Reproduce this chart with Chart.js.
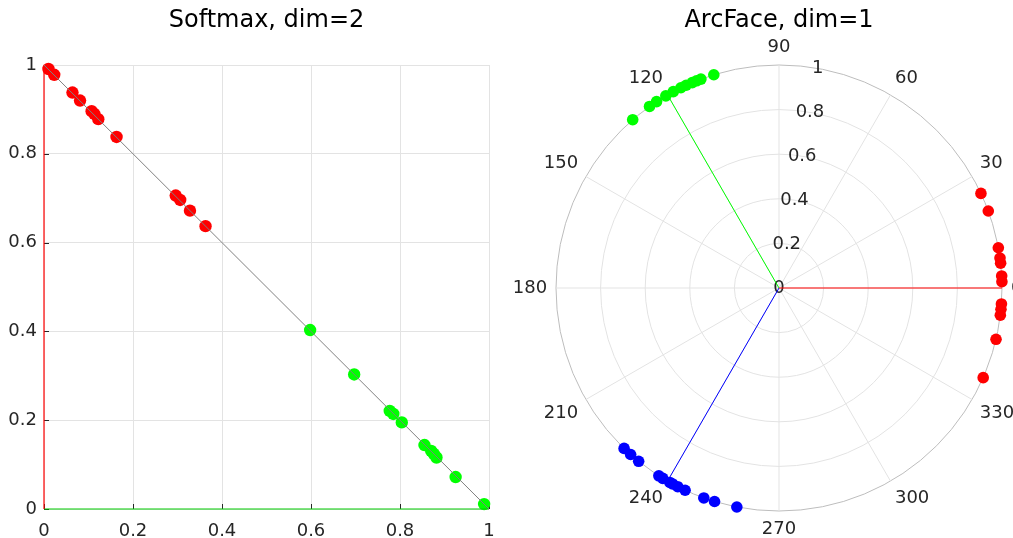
<!DOCTYPE html>
<html>
<head>
<meta charset="utf-8">
<script src="https://cdn.jsdelivr.net/npm/chart.js@4"></script>
<style>
  html, body { margin: 0; padding: 0; background: #fff; }
  body { width: 1013px; height: 538px; position: relative; overflow: hidden; }
  canvas { position: absolute; top: 0; }
  #softmaxChart { left: 0; }
  #arcfaceChart { left: 506px; }
</style>
</head>
<body>
<canvas id="softmaxChart" width="533" height="538"></canvas>
<canvas id="arcfaceChart" width="507" height="538"></canvas>
<script>
// Softmax, dim=2
const redX = [0.010, 0.023, 0.064, 0.081, 0.107, 0.113, 0.122, 0.163, 0.296, 0.306, 0.328, 0.363];
const redY = [0.991, 0.978, 0.938, 0.920, 0.896, 0.890, 0.878, 0.838, 0.706, 0.696, 0.672, 0.637];
const greenX = [0.598, 0.697, 0.777, 0.785, 0.804, 0.855, 0.870, 0.876, 0.882, 0.925, 0.989];
const greenY = [0.403, 0.303, 0.221, 0.214, 0.195, 0.144, 0.131, 0.124, 0.116, 0.072, 0.011];
const simplexX = [0, 1];
const simplexY = [1, 0];
const softmaxTicks = [0, 0.2, 0.4, 0.6, 0.8, 1];

// ArcFace, dim=1 (angles in degrees, radius 1)
const arcRedAngles = [25.1, 20.2, 10.4, 7.7, 6.4, 3.1, 1.6, -4.1, -5.5, -7.0, -13.3, -23.7];
const arcGreenAngles = [107.0, 110.5, 111.7, 112.9, 114.6, 116.1, 118.3, 120.5, 123.3, 125.5, 131.0];
const arcBlueAngles = [226.0, 228.3, 231.0, 237.4, 238.6, 240.7, 241.5, 243.0, 245.1, 250.3, 253.2, 259.1];
const weightAngles = [0, 120, 240];
const angleTicks = [0, 30, 60, 90, 120, 150, 180, 210, 240, 270, 300, 330];
const radiusTicks = [0, 0.2, 0.4, 0.6, 0.8, 1];

const TEXT = "#262626";
const GRID = "#e3e3e3";
const FONT = "DejaVu Sans";

function zip(xs, ys) {
  return xs.map((x, i) => ({ x: x, y: ys[i] }));
}

function polarPoint(deg, r) {
  const a = (deg * Math.PI) / 180;
  return { x: r * Math.cos(a), y: r * Math.sin(a) };
}

function titleOptions(text) {
  return {
    display: true,
    text: text,
    color: "#000",
    font: { family: FONT, size: 24, weight: "normal" },
    padding: { top: 6, bottom: 30.2 },
  };
}

// inward tick marks like the original axes
const inwardTicks = {
  id: "inwardTicks",
  beforeDatasetsDraw(chart) {
    const { ctx, chartArea, scales } = chart;
    ctx.save();
    ctx.strokeStyle = TEXT;
    ctx.lineWidth = 1;
    ctx.beginPath();
    softmaxTicks.forEach((v) => {
      const py = Math.round(scales.y.getPixelForValue(v)) + 0.5;
      ctx.moveTo(chartArea.left, py);
      ctx.lineTo(chartArea.left + 5, py);
      const px = Math.round(scales.x.getPixelForValue(v)) + 0.5;
      ctx.moveTo(px, chartArea.bottom);
      ctx.lineTo(px, chartArea.bottom - 5);
    });
    ctx.stroke();
    ctx.restore();
  },
};

new Chart(document.getElementById("softmaxChart"), {
  type: "scatter",
  data: {
    datasets: [
      {
        data: zip(simplexX, simplexY),
        showLine: true,
        borderColor: "#808080",
        borderWidth: 1,
        pointRadius: 0,
      },
      {
        data: [{ x: 0, y: 0 }, { x: 0, y: 1 }],
        showLine: true,
        borderColor: "#ff0000",
        borderWidth: 1.2,
        pointRadius: 0,
      },
      {
        data: [{ x: 0, y: 0 }, { x: 1, y: 0 }],
        showLine: true,
        borderColor: "#00cc00",
        borderWidth: 1.2,
        pointRadius: 0,
      },
      {
        data: zip(redX, redY),
        backgroundColor: "#ff0000",
        borderWidth: 0,
        pointRadius: 6.2,
      },
      {
        data: zip(greenX, greenY),
        backgroundColor: "#00ff00",
        borderWidth: 0,
        pointRadius: 6.2,
      },
    ],
  },
  options: {
    responsive: false,
    animation: false,
    clip: false,
    layout: { padding: { left: 0, right: 0, top: 0, bottom: 0 } },
    plugins: {
      legend: { display: false },
      tooltip: { enabled: false },
      title: titleOptions("Softmax, dim=2"),
    },
    scales: {
      x: {
        type: "linear",
        min: 0,
        max: 1,
        afterBuildTicks: (scale) => {
          scale.ticks = softmaxTicks.map((v) => ({ value: v }));
        },
        afterFit: (scale) => {
          scale.height = 29;
        },
        border: { display: false },
        grid: { color: GRID, drawTicks: false },
        ticks: {
          color: TEXT,
          padding: 12,
          font: { family: FONT, size: 18 },
          callback: (v) => String(v),
        },
      },
      y: {
        type: "linear",
        min: 0,
        max: 1,
        afterBuildTicks: (scale) => {
          scale.ticks = softmaxTicks.map((v) => ({ value: v }));
        },
        afterFit: (scale) => {
          scale.width = 44;
        },
        border: { display: false },
        grid: { color: GRID, drawTicks: false },
        ticks: {
          color: TEXT,
          padding: 7,
          font: { family: FONT, size: 18 },
          callback: (v) => String(v),
        },
      },
      // empty spacer on the right so the title centres over the plot
      y2: {
        type: "linear",
        position: "right",
        min: 0,
        max: 1,
        afterFit: (scale) => {
          scale.width = 44;
        },
        border: { display: false },
        grid: { display: false },
        ticks: { display: false },
      },
    },
  },
  plugins: [inwardTicks],
});

// polar grid and labels drawn through the chart's own x/y scales
const polarGrid = {
  id: "polarGrid",
  beforeDatasetsDraw(chart) {
    const { ctx, scales } = chart;
    const cx = scales.x.getPixelForValue(0);
    const cy = scales.y.getPixelForValue(0);
    const unit = scales.x.getPixelForValue(1) - cx;
    ctx.save();
    ctx.lineWidth = 1;

    radiusTicks.forEach((r) => {
      if (r === 0) return;
      ctx.strokeStyle = r === 1 ? "#bdbdbd" : GRID;
      ctx.beginPath();
      ctx.arc(cx, cy, r * unit, 0, Math.PI * 2);
      ctx.stroke();
    });

    ctx.strokeStyle = GRID;
    ctx.beginPath();
    angleTicks.forEach((deg) => {
      const p = polarPoint(deg, 1);
      ctx.moveTo(cx, cy);
      ctx.lineTo(scales.x.getPixelForValue(p.x), scales.y.getPixelForValue(p.y));
    });
    ctx.stroke();

    ctx.fillStyle = TEXT;
    ctx.font = "18px '" + FONT + "'";
    angleTicks.forEach((deg) => {
      const p = polarPoint(deg, 1.04);
      const c = Math.cos((deg * Math.PI) / 180);
      const s = Math.sin((deg * Math.PI) / 180);
      ctx.textAlign = c > 0.1 ? "left" : c < -0.1 ? "right" : "center";
      ctx.textBaseline = s > 0.1 ? "bottom" : s < -0.1 ? "top" : "middle";
      ctx.fillText(String(deg), scales.x.getPixelForValue(p.x), scales.y.getPixelForValue(p.y));
    });

    ctx.textAlign = "center";
    ctx.textBaseline = "middle";
    radiusTicks.forEach((r) => {
      const p = polarPoint(80, r);
      ctx.fillText(String(r), scales.x.getPixelForValue(p.x), scales.y.getPixelForValue(p.y));
    });
    ctx.restore();
  },
};

const weightColors = ["#ff0000", "#00ff00", "#0000ff"];

new Chart(document.getElementById("arcfaceChart"), {
  type: "scatter",
  data: {
    datasets: [
      ...weightAngles.map((deg, i) => ({
        data: [polarPoint(deg, 0), polarPoint(deg, 1)],
        showLine: true,
        borderColor: weightColors[i],
        borderWidth: 1,
        pointRadius: 0,
      })),
      {
        data: arcRedAngles.map((d) => polarPoint(d, 1)),
        backgroundColor: "#ff0000",
        borderWidth: 0,
        pointRadius: 5.8,
      },
      {
        data: arcGreenAngles.map((d) => polarPoint(d, 1)),
        backgroundColor: "#00ff00",
        borderWidth: 0,
        pointRadius: 5.8,
      },
      {
        data: arcBlueAngles.map((d) => polarPoint(d, 1)),
        backgroundColor: "#0000ff",
        borderWidth: 0,
        pointRadius: 5.8,
      },
    ],
  },
  options: {
    responsive: false,
    animation: false,
    clip: false,
    layout: { padding: { left: 50, right: 11, top: 0, bottom: 27 } },
    plugins: {
      legend: { display: false },
      tooltip: { enabled: false },
      title: titleOptions("ArcFace, dim=1"),
    },
    scales: {
      x: { type: "linear", min: -1, max: 1, display: false },
      y: { type: "linear", min: -1, max: 1, display: false },
    },
  },
  plugins: [polarGrid],
});
</script>
</body>
</html>
